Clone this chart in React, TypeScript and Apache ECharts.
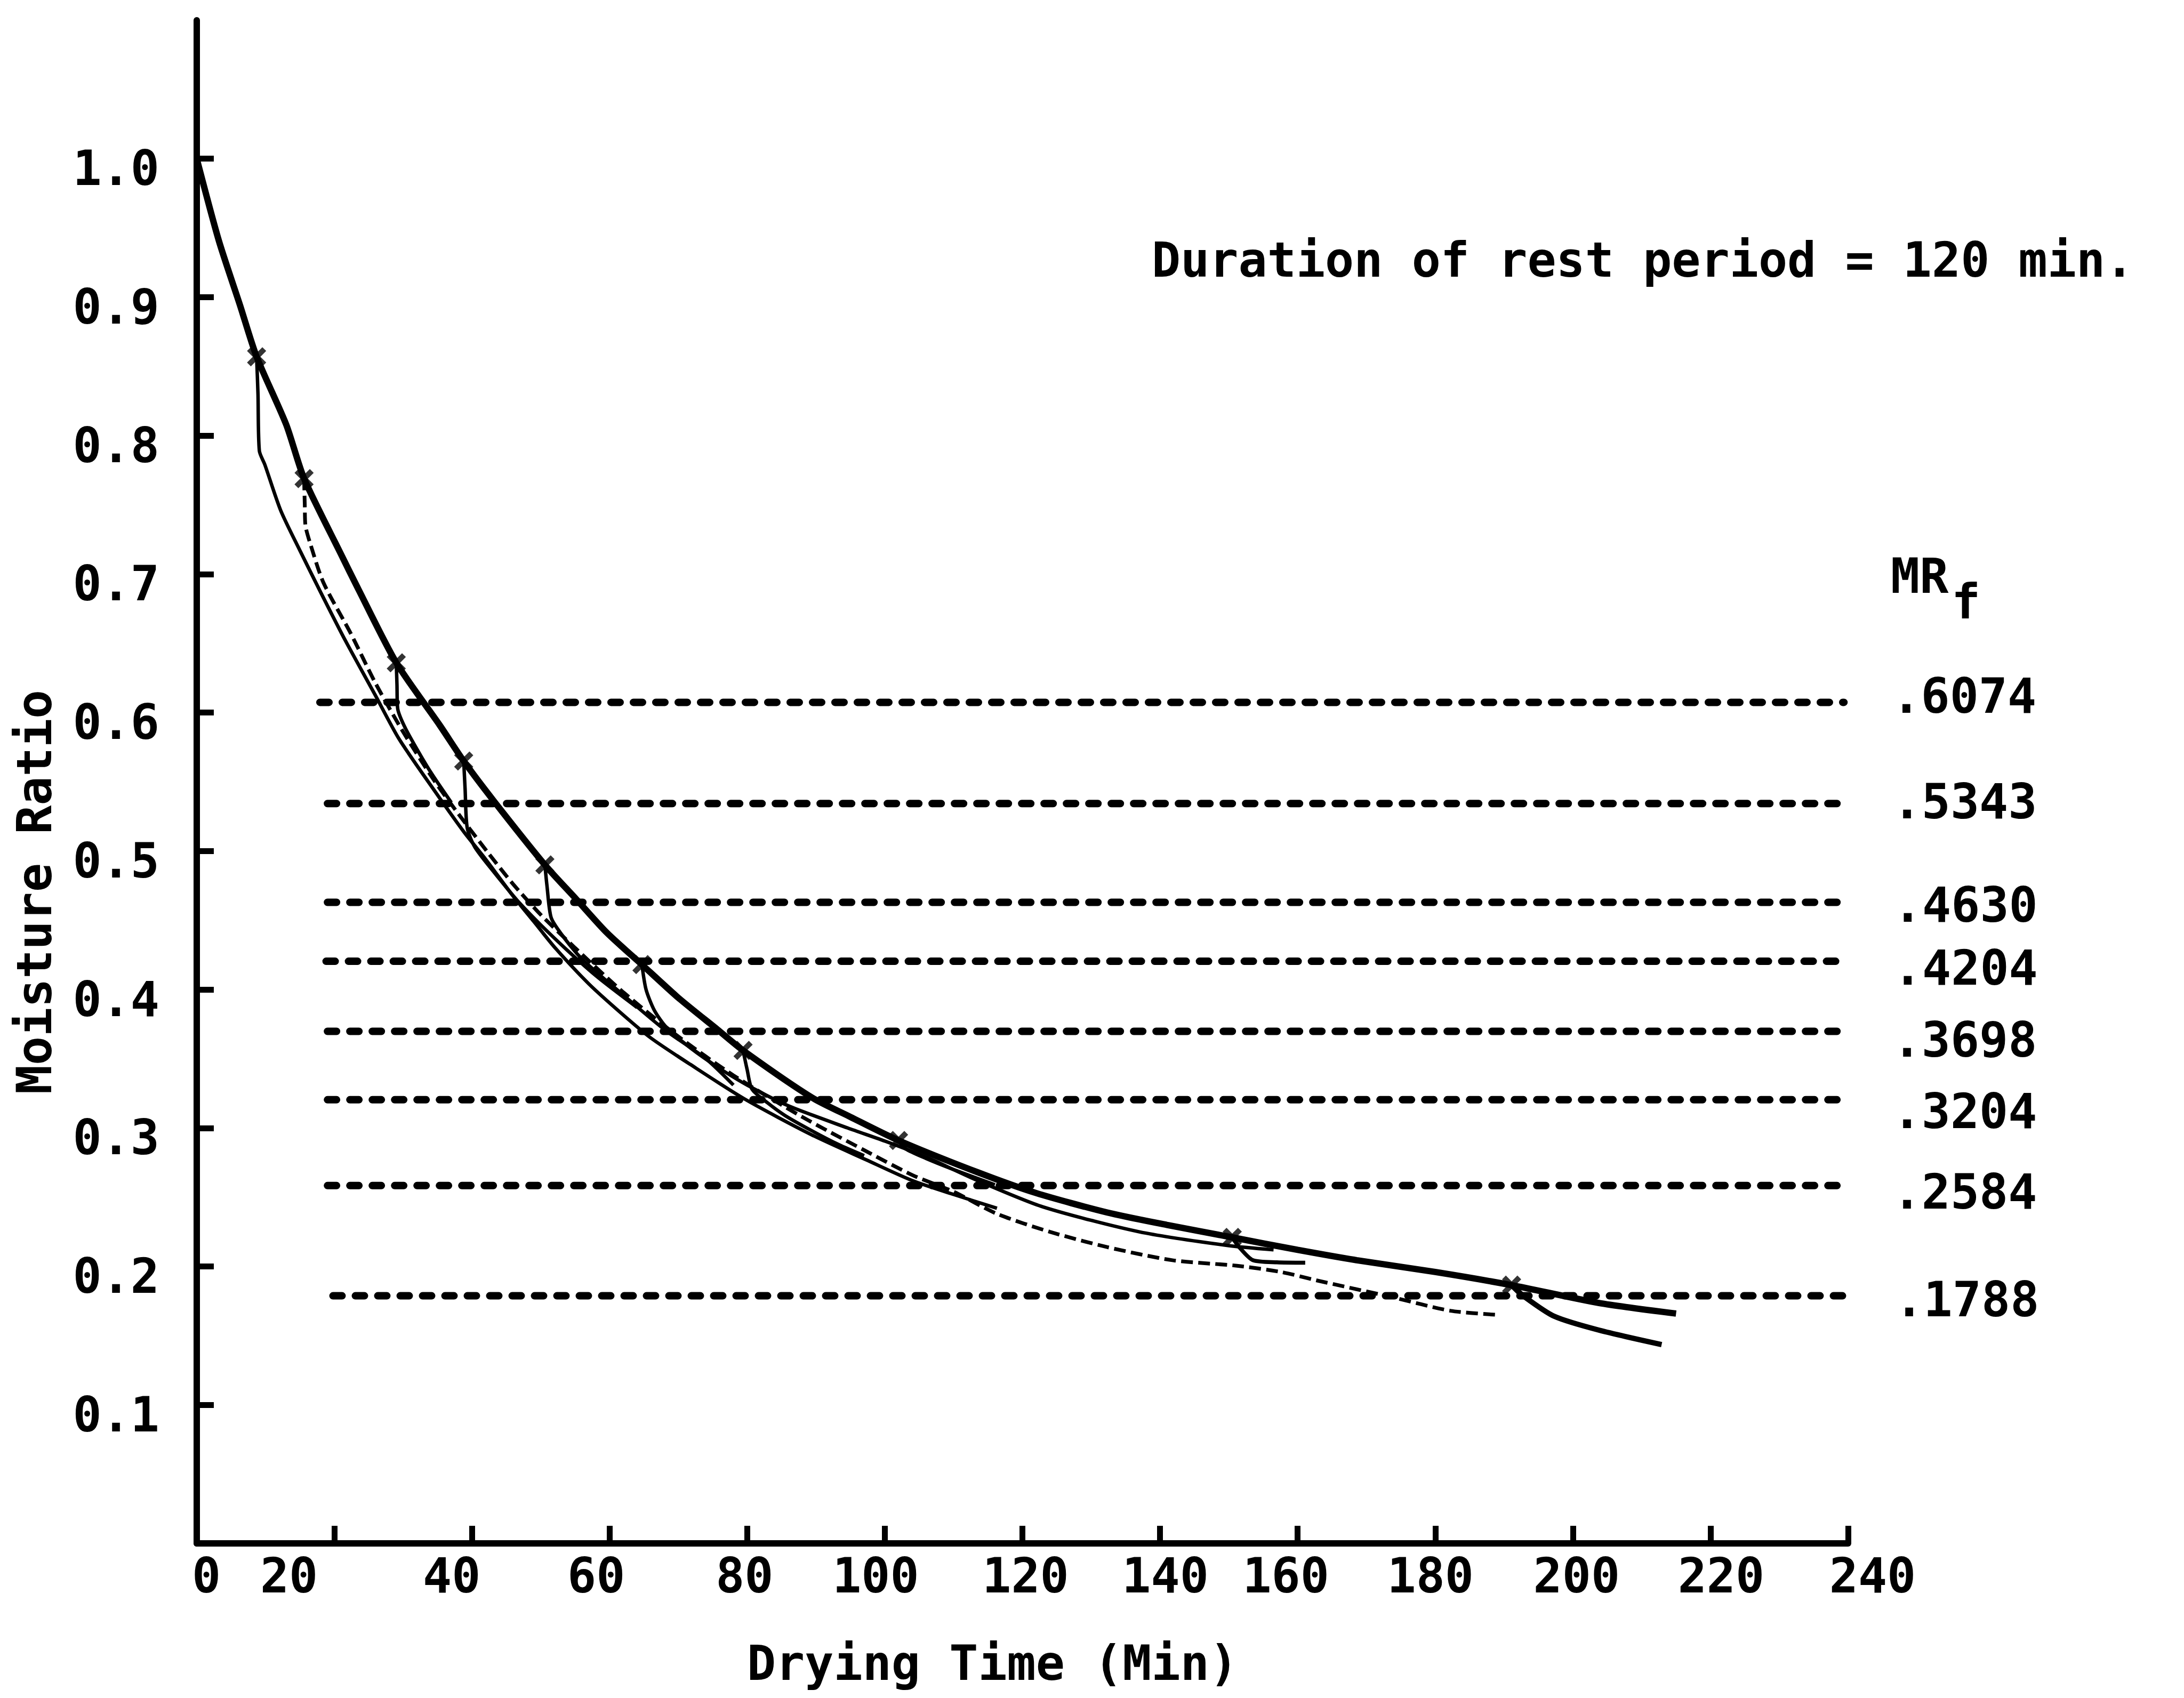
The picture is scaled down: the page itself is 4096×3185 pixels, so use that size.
import React, { useEffect, useRef } from 'react';
import * as echarts from 'echarts';

// ---------- data ----------
const X_TICKS = [20, 40, 60, 80, 100, 120, 140, 160, 180, 200, 220, 240];
const X_LABELS = [0, 20, 40, 60, 80, 100, 120, 140, 160, 180, 200, 220, 240];
const Y_TICKS = [0.1, 0.2, 0.3, 0.4, 0.5, 0.6, 0.7, 0.8, 0.9, 1.0];

// continuous drying curve (min, moisture ratio)
const MAIN_CURVE = [
  [0, 1.0], [3.2, 0.941], [6.3, 0.894], [8.7, 0.857], [13, 0.808], [15.6, 0.769],
  [20.9, 0.715], [23.5, 0.689], [29, 0.636], [35.3, 0.591], [38.8, 0.565],
  [43.2, 0.536], [50.6, 0.49], [55.2, 0.465], [59.6, 0.441], [64.7, 0.418],
  [70, 0.394], [75.7, 0.371], [79.4, 0.356], [89.4, 0.322], [95, 0.308],
  [102, 0.291], [113.5, 0.268], [122, 0.253], [132.3, 0.239], [141, 0.23],
  [150.5, 0.221], [160, 0.212], [168.6, 0.2045], [180, 0.196], [191.1, 0.1865],
  [203.8, 0.1736], [215, 0.166],
];

// points where drying was resumed after the rest period
const RESUME_POINTS = [
  [8.7, 0.857], [15.6, 0.769], [29, 0.636], [38.8, 0.565], [50.6, 0.49],
  [64.7, 0.418], [79.4, 0.356], [102, 0.291], [150.5, 0.221], [191.1, 0.1865],
];

// tempered-drying curves
const TEMPER_1 = [
  [8.7, 0.857], [8.9, 0.83], [9.1, 0.789], [9.9, 0.779], [12.2, 0.746], [15, 0.717],
  [18, 0.687], [21.6, 0.652], [25.9, 0.613], [29.4, 0.581], [34.5, 0.544],
  [38.8, 0.514], [42, 0.494], [45.9, 0.468], [49, 0.449], [52.1, 0.43], [57, 0.404],
  [61.9, 0.382], [66, 0.365], [71.7, 0.346], [79.6, 0.321], [89.4, 0.295],
  [97.3, 0.277], [104, 0.262], [110, 0.252], [116.3, 0.242],
];
const TEMPER_2 = [
  [15.6, 0.769], [15.7, 0.75], [15.8, 0.735], [16.5, 0.722], [18.4, 0.694],
  [22.4, 0.657], [26, 0.621], [30, 0.586], [34.5, 0.551], [38, 0.527], [42.3, 0.499],
  [46, 0.476], [50, 0.454], [55, 0.43], [62, 0.398], [70, 0.366], [78, 0.338],
  [88, 0.308], [97, 0.284], [104, 0.266], [110, 0.254], [116.3, 0.238], [124, 0.225],
  [132.3, 0.214], [141.8, 0.2045], [151.2, 0.2005], [157.6, 0.196], [162.7, 0.19],
  [173.6, 0.178], [182.2, 0.168], [189.1, 0.165],
];
const TEMPER_3 = [
  [29, 0.636], [29.1, 0.62], [29.2, 0.603], [30, 0.592], [31.5, 0.578], [34, 0.557], [37, 0.535],
];
const TEMPER_4 = [
  [38.8, 0.565], [39, 0.545], [39.3, 0.517], [40.4, 0.503], [43, 0.486], [47, 0.462],
  [52, 0.437], [58, 0.41], [64, 0.387],
];
const TEMPER_5 = [
  [50.6, 0.49], [50.9, 0.475], [51.5, 0.452], [53, 0.44], [56, 0.422], [62, 0.396],
  [68, 0.371], [74, 0.35], [78, 0.331],
];
const TEMPER_6 = [
  [64.7, 0.418], [65.3, 0.4], [66.5, 0.385], [68.2, 0.373], [71.7, 0.358], [76, 0.343],
  [80, 0.331], [86, 0.316], [94.6, 0.3], [100.3, 0.29], [106, 0.279], [113.5, 0.262],
  [123, 0.243], [137, 0.225], [150, 0.215], [156.5, 0.212],
];
const TEMPER_7 = [
  [79.4, 0.356], [80, 0.342], [80.7, 0.328], [83, 0.318], [85.5, 0.309], [89.4, 0.298],
  [93.3, 0.288], [97, 0.28],
];
const TEMPER_8 = [
  [102, 0.291], [103, 0.285], [106, 0.278], [110, 0.27], [116, 0.259],
];
const TEMPER_9 = [
  [150.5, 0.221], [151.5, 0.214], [153.5, 0.2045], [157, 0.203], [161.1, 0.2027],
];
const TEMPER_10 = [
  [191.1, 0.1865], [193, 0.178], [197.3, 0.164], [203.8, 0.154], [212.9, 0.1436],
];

// final moisture ratio levels
const MRF_VALUES = [0.6074, 0.5343, 0.463, 0.4204, 0.3698, 0.3204, 0.2584, 0.1788];
const MRF_LABELS = ['.6074', '.5343', '.4630', '.4204', '.3698', '.3204', '.2584', '.1788'];
const MRF_START = [17.9, 19.0, 19.0, 18.8, 19.0, 19.0, 19.0, 19.8];
const MRF_END = [239.4, 239.5, 239.6, 239.6, 239.5, 239.5, 239.5, 239.8];

// ---------- layout (output px) ----------
const FONT = "'DejaVu Sans Mono', monospace";
const FS = 90;
const X_LABEL_DX = [18, -85, -38, -25, -5, -17, 6, 10, -22, -9, 7, 20, 46];
const MRF_LABEL_DY = [-12, -4, 5, 12, 16, 22, 12, 7];

const CROSS_PATH =
  'path://M0,0.2L0.2,0L0.5,0.3L0.8,0L1,0.2L0.7,0.5L1,0.8L0.8,1L0.5,0.7L0.2,1L0,0.8L0.3,0.5Z';

const baseText = { fontFamily: FONT, fontSize: FS, fontWeight: 'bold' as const, color: '#000' };

export default function App() {
  const ref = useRef<HTMLDivElement>(null);

  useEffect(() => {
    if (!ref.current) return;
    const chart = echarts.init(ref.current, undefined, { renderer: 'svg' });

    const xRich: Record<string, any> = {};
    X_LABELS.forEach((v, i) => {
      const d = X_LABEL_DX[i];
      xRich['l' + i] = {
        ...baseText,
        lineHeight: FS,
        padding: d >= 0 ? [0, 0, 0, 2 * d] : [0, -2 * d, 0, 0],
      };
    });

    const thin = (data: number[][], width = 6.5) => ({
      type: 'line',
      data,
      smooth: 0.25,
      symbol: 'none',
      silent: true,
      lineStyle: { color: '#000', width },
      z: 3,
    });

    const series: any[] = [
      {
        type: 'line',
        data: MAIN_CURVE,
        smooth: 0.25,
        symbol: 'none',
        silent: true,
        lineStyle: { color: '#000', width: 12 },
        z: 4,
      },
      thin(TEMPER_1),
      {
        type: 'line',
        data: TEMPER_2,
        smooth: 0.25,
        symbol: 'none',
        silent: true,
        lineStyle: { color: '#000', width: 7, type: [22, 10] },
        z: 3,
      },
      thin(TEMPER_3),
      thin(TEMPER_4),
      thin(TEMPER_5),
      thin(TEMPER_6),
      thin(TEMPER_7),
      thin(TEMPER_8),
      thin(TEMPER_9, 7.5),
      thin(TEMPER_10, 10),
      {
        type: 'scatter',
        data: RESUME_POINTS,
        symbol: CROSS_PATH,
        symbolSize: 36,
        itemStyle: { color: '#000' },
        silent: true,
        z: 5,
      },
    ];

    MRF_VALUES.forEach((v, i) => {
      series.push({
        type: 'line',
        data: [[MRF_START[i], v], [MRF_END[i], v]],
        symbol: 'none',
        silent: true,
        lineStyle: { color: '#000', width: 14, type: [17, 25], cap: 'round' },
        z: 2,
        endLabel: {
          show: true,
          formatter: MRF_LABELS[i],
          distance: 90,
          offset: [0, MRF_LABEL_DY[i]],
          ...baseText,
        },
      });
    });

    chart.setOption({
      animation: false,
      backgroundColor: '#fff',
      grid: { left: 369, right: 630, top: 38, bottom: 290, containLabel: false },
      xAxis: {
        type: 'value',
        min: 0,
        max: 240,
        interval: 20,
        name: 'Drying Time (Min)',
        nameLocation: 'middle',
        nameGap: 179,
        nameTextStyle: { ...baseText, padding: [0, 112, 0, 0] },
        axisLine: { show: true, onZero: false, lineStyle: { color: '#000', width: 12 } },
        axisTick: {
          show: true,
          inside: true,
          length: 33,
          customValues: X_TICKS,
          lineStyle: { color: '#000', width: 11 },
        },
        axisLabel: {
          show: true,
          margin: 15,
          customValues: X_LABELS,
          formatter: (val: number) => {
            const i = X_LABELS.indexOf(Math.round(val));
            return '{l' + i + '|' + Math.round(val) + '}';
          },
          rich: xRich,
          ...baseText,
        },
        splitLine: { show: false },
      },
      yAxis: {
        type: 'value',
        min: 0,
        max: 1.1,
        interval: 0.1,
        axisLine: { show: true, onZero: false, lineStyle: { color: '#000', width: 12 } },
        axisTick: {
          show: true,
          inside: true,
          length: 32,
          customValues: Y_TICKS,
          lineStyle: { color: '#000', width: 11 },
        },
        axisLabel: {
          show: true,
          margin: 70,
          customValues: Y_TICKS,
          formatter: (val: number) => '{y|' + val.toFixed(1) + '}',
          rich: { y: { ...baseText, lineHeight: FS, padding: [36, 0, 0, 0] } },
          ...baseText,
        },
        splitLine: { show: false },
      },
      graphic: [
        {
          type: 'text',
          x: 2160,
          y: 487,
          style: { text: 'Duration of rest period = 120 min.', fill: '#000', font: `bold ${FS}px ${FONT}`, align: 'left', verticalAlign: 'middle' },
        },
        {
          type: 'text',
          x: 64,
          y: 1673,
          rotation: Math.PI / 2,
          style: { text: 'Moisture Ratio', fill: '#000', font: `bold ${FS}px ${FONT}`, align: 'center', verticalAlign: 'middle' },
        },
        {
          type: 'text',
          x: 3546,
          y: 1080,
          style: { text: 'MR', fill: '#000', font: `bold ${FS}px ${FONT}`, align: 'left', verticalAlign: 'middle' },
        },
        {
          type: 'text',
          x: 3660,
          y: 1128,
          style: { text: 'f', fill: '#000', font: `bold ${FS}px ${FONT}`, align: 'left', verticalAlign: 'middle' },
        },
      ],
      series,
    });

    return () => chart.dispose();
  }, []);

  return (
    <div
      ref={ref}
      style={{ position: 'fixed', left: 0, top: 0, width: 4096, height: 3185, background: '#fff' }}
    />
  );
}
